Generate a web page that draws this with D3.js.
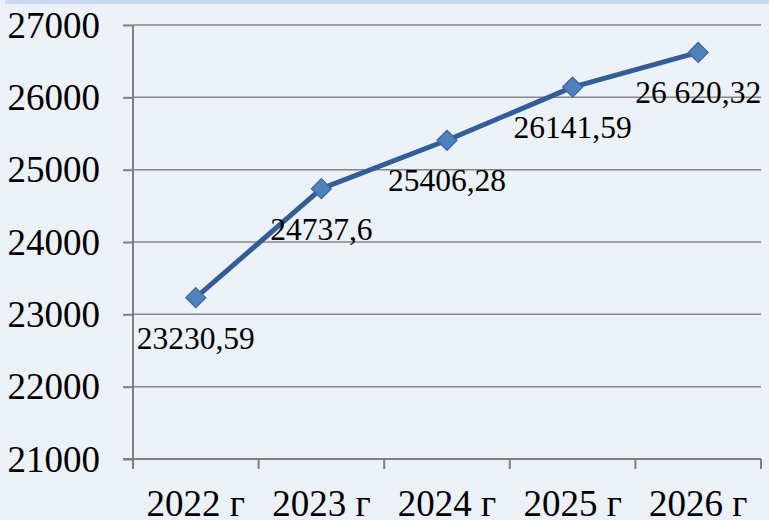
<!DOCTYPE html>
<html>
<head>
<meta charset="utf-8">
<script src="https://cdn.jsdelivr.net/npm/d3@7/dist/d3.min.js"></script>
<style>
  html, body { margin: 0; padding: 0; background: #ECF0F7; }
  svg { display: block; }
</style>
</head>
<body>
<script>
const categories = ["2022 г", "2023 г", "2024 г", "2025 г", "2026 г"];
const values = [23230.59, 24737.6, 25406.28, 26141.59, 26620.32];
const valueLabels = ["23230,59", "24737,6", "25406,28", "26141,59", "26 620,32"];
const yTicks = [21000, 22000, 23000, 24000, 25000, 26000, 27000];

const W = 769, H = 520;
const plotLeft = 133, plotRight = 761, plotTop = 25, plotBottom = 459;
const FONT = "'Liberation Serif', 'Times New Roman', serif";

const svg = d3.select("body").append("svg").attr("width", W).attr("height", H);

svg.append("rect").attr("x", 0).attr("y", 0).attr("width", W).attr("height", H).attr("fill", "#ECF0F7");
svg.append("rect").attr("x", 5).attr("y", 0).attr("width", W - 5).attr("height", 4).attr("fill", "#C9DAF0");

const x = d3.scaleBand().domain(categories).range([plotLeft, plotRight]).padding(0);
const y = d3.scaleLinear().domain([21000, 27000]).range([plotBottom, plotTop]);
const cx = d => x(d) + x.bandwidth() / 2;

// gridlines
svg.append("g").selectAll("line").data(yTicks.filter(t => t > 21000)).join("line")
  .attr("x1", plotLeft).attr("x2", plotRight)
  .attr("y1", d => y(d)).attr("y2", d => y(d))
  .attr("stroke", "#868686").attr("stroke-width", 1.5);

// Y axis
const yAxis = d3.axisLeft(y).tickValues(yTicks).tickSize(10).tickPadding(23).tickFormat(d3.format("d"));
const gy = svg.append("g").attr("transform", `translate(${plotLeft},0)`).call(yAxis);
gy.select(".domain").attr("stroke", "#7F7F7F").attr("stroke-width", 2).attr("d", `M0,${plotTop}V${plotBottom}`);
gy.selectAll(".tick line").attr("stroke", "#7F7F7F").attr("stroke-width", 2);
gy.selectAll(".tick text").attr("font-family", FONT)
  .attr("font-size", 37).attr("fill", "#000").attr("dy", "0.33em");

// X axis
const gx = svg.append("g").attr("transform", `translate(0,${plotBottom})`);
gx.append("line").attr("x1", plotLeft - 10).attr("x2", plotRight).attr("y1", 0).attr("y2", 0)
  .attr("stroke", "#7F7F7F").attr("stroke-width", 2);
const boundaries = categories.map(c => x(c)).concat([x(categories[categories.length - 1]) + x.bandwidth()]);
gx.selectAll("line.t").data(boundaries).join("line").attr("class", "t")
  .attr("x1", d => d).attr("x2", d => d).attr("y1", 0).attr("y2", 10)
  .attr("stroke", "#7F7F7F").attr("stroke-width", 2);
gx.selectAll("text").data(categories).join("text")
  .attr("x", d => cx(d)).attr("y", 57)
  .attr("text-anchor", "middle")
  .attr("font-family", FONT)
  .attr("font-size", 37).attr("fill", "#000").text(d => d);

// line
const data = categories.map((c, i) => ({c, v: values[i], l: valueLabels[i]}));
svg.append("path").datum(data)
  .attr("d", d3.line().x(d => cx(d.c)).y(d => y(d.v)))
  .attr("fill", "none").attr("stroke", "#335E95").attr("stroke-width", 5).attr("stroke-linejoin", "round");

// markers
svg.append("g").selectAll("path").data(data).join("path")
  .attr("transform", d => `translate(${cx(d.c)},${y(d.v)})`)
  .attr("d", "M0,-10L10,0L0,10L-10,0Z")
  .attr("fill", "#4F81BD").attr("stroke", "#3A659A").attr("stroke-width", 1.2);

// labels
svg.append("g").selectAll("text").data(data).join("text")
  .attr("x", d => cx(d.c)).attr("y", d => y(d.v) + 51)
  .attr("text-anchor", "middle")
  .attr("font-family", FONT)
  .attr("font-size", 31.5).attr("fill", "#000").text(d => d.l);
</script>
</body>
</html>
